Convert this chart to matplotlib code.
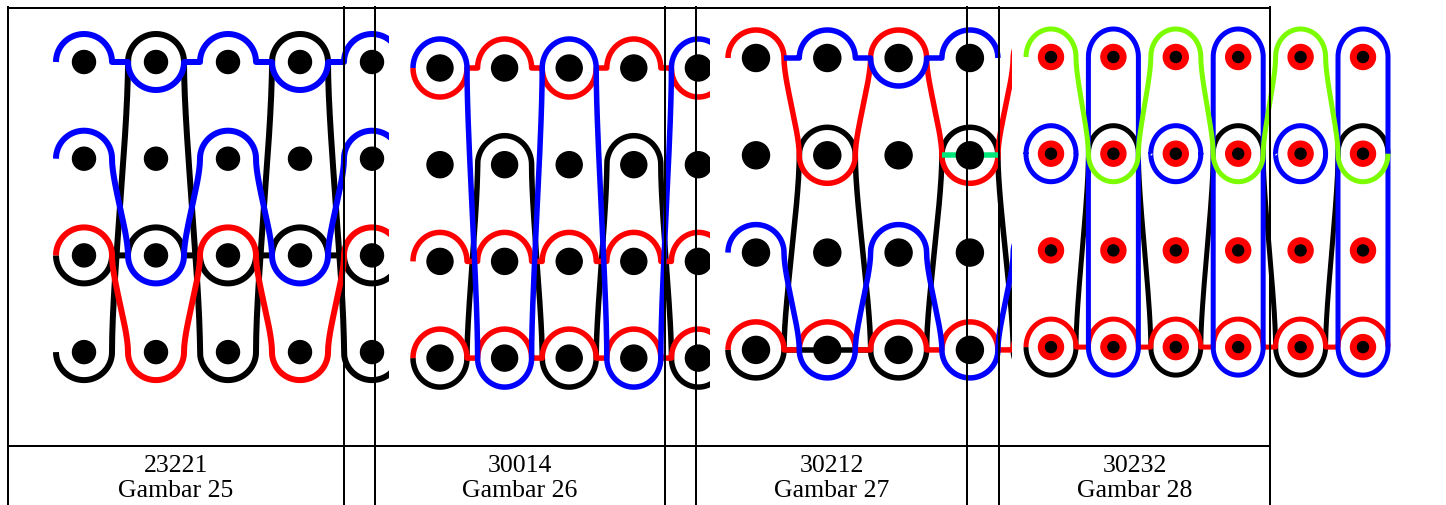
import numpy as np
import matplotlib
matplotlib.use('Agg')
import matplotlib.pyplot as plt
from matplotlib.patches import Circle

W, H = 1446, 505

# ---------------- data ----------------
codes = ['23221', '30014', '30212', '30232']
captions = ['Gambar 25', 'Gambar 26', 'Gambar 27', 'Gambar 28']

# dot grids (columns x rows)
grid_cols = [5, 5, 5, 6]
grid_rows = [4, 4, 4, 4]

# yarn paths: sequence of (kind, col, row); u/d = upper/lower half loop left->right,
# U/D = same right->left, L/R = left/right end point of a loop
p1_yarns = [
    ('black', [('d', 0, 3), ('u', 1, 0), ('d', 2, 3), ('u', 3, 0), ('d', 4, 3)], False),
    ('black', [('d', 0, 2), ('u', 1, 2), ('d', 2, 2), ('u', 3, 2), ('d', 4, 2)], False),
    ('red',   [('u', 0, 2), ('d', 1, 3), ('u', 2, 2), ('d', 3, 3), ('u', 4, 2)], False),
    ('blue',  [('u', 0, 1), ('d', 1, 2), ('u', 2, 1), ('d', 3, 2), ('u', 4, 1)], False),
    ('blue',  [('u', 0, 0), ('d', 1, 0), ('u', 2, 0), ('d', 3, 0), ('u', 4, 0)], False),
]
p2_yarns = [
    ('black', [('d', 0, 3), ('u', 1, 1), ('d', 2, 3), ('u', 3, 1), ('d', 4, 3)], False),
    ('red',   [('d', 0, 0), ('u', 1, 0), ('d', 2, 0), ('u', 3, 0), ('d', 4, 0)], False),
    ('red',   [('u', 0, 2), ('u', 1, 2), ('u', 2, 2), ('u', 3, 2), ('u', 4, 2)], False),
    ('red',   [('u', 0, 3), ('u', 1, 3), ('u', 2, 3), ('u', 3, 3), ('u', 4, 3)], False),
    ('blue',  [('u', 0, 0), ('d', 1, 3), ('u', 2, 0), ('d', 3, 3), ('u', 4, 0)], False),
]
p3_yarns = [
    ('black', [('d', 0, 3), ('u', 1, 1), ('d', 2, 3), ('u', 3, 1), ('d', 4, 3)], False),
    ('black', [('R', 0, 3), ('L', 2, 3)], False),
    ('red',   [('u', 0, 3), ('u', 1, 3), ('u', 2, 3), ('u', 3, 3), ('u', 4, 3)], False),
    ('red',   [('u', 0, 0), ('d', 1, 1), ('u', 2, 0), ('d', 3, 1), ('u', 4, 0)], False),
    ('blue',  [('R', 0, 0), ('u', 1, 0), ('d', 2, 0), ('u', 3, 0)], False),
    ('blue',  [('u', 0, 2), ('d', 1, 3), ('u', 2, 2), ('d', 3, 3), ('u', 4, 2)], False),
    ('#00e87a', [('L', 3, 1), ('R', 3, 1)], False),
]
p4_yarns = [
    ('black', [('d', 0, 3), ('u', 1, 1), ('d', 2, 3), ('u', 3, 1), ('d', 4, 3), ('u', 5, 1)], False),
    ('red',   [('u', 0, 3), ('u', 1, 3), ('u', 2, 3), ('u', 3, 3), ('u', 4, 3), ('u', 5, 3)], False),
    ('blue',  [('u', 1, 0), ('D', 1, 3)], True),
    ('blue',  [('u', 3, 0), ('D', 3, 3)], True),
    ('blue',  [('u', 5, 0), ('D', 5, 3)], True),
    ('blue',  [('u', 0, 1), ('D', 0, 1)], True),
    ('blue',  [('u', 2, 1), ('D', 2, 1)], True),
    ('blue',  [('u', 4, 1), ('D', 4, 1)], True),
    ('#7cfc00', [('u', 0, 0), ('d', 1, 1), ('u', 2, 0), ('d', 3, 1), ('u', 4, 0), ('d', 5, 1)], False),
]
yarns = [p1_yarns, p2_yarns, p3_yarns, p4_yarns]

# ---------------- layout / style ----------------
# per panel: clip box (px), first dot position, spacing, loop radii, line width, dot radius
panels = [
    dict(box=(47, 20, 389, 395), x0=84, y0=62, dx=72.0, dy=96.7, rx=28, ry=28, lw=6.0, dot=11.5),
    dict(box=(408, 20, 710, 400), x0=440, y0=68, dx=64.6, dy=96.7, rx=27, ry=29, lw=5.5, dot=13.0),
    dict(box=(719, 15, 1012, 395), x0=756, y0=58, dx=71.3, dy=97.3, rx=28, ry=28, lw=5.5, dot=13.5),
    dict(box=(1018, 15, 1395, 395), x0=1051, y0=57, dx=62.4, dy=96.7, rx=25, ry=28, lw=5.0, dot=12.5),
]
dot_style = ['plain', 'plain', 'plain', 'redblack']

table_x = [8, 344, 375, 665, 696, 967, 999, 1270]
table_top, table_mid = 8, 446
cell_pairs = [(8, 344), (375, 665), (696, 967), (999, 1270)]

PX = 72.0 / 100.0  # points per pixel

fig = plt.figure(figsize=(W / 100, H / 100), dpi=100)
fig.patch.set_facecolor('white')


def arc_pts(kind, cx, cy, rx, ry, n=48):
    t = np.linspace(np.pi, 0, n)
    x = cx + rx * np.cos(t)
    if kind in 'uU':
        y = cy - ry * np.sin(t)
    else:
        y = cy + ry * np.sin(t)
    if kind in 'UD':
        x, y = x[::-1], y[::-1]
    return x, y


def bez(p0, p3, k=0.25, n=30):
    p0 = np.array(p0, float)
    p3 = np.array(p3, float)
    d = p3[1] - p0[1]
    p1 = np.array([p0[0], p0[1] + k * d])
    p2 = np.array([p3[0], p3[1] - k * d])
    t = np.linspace(0, 1, n)[:, None]
    pts = (1 - t) ** 3 * p0 + 3 * (1 - t) ** 2 * t * p1 + 3 * (1 - t) * t ** 2 * p2 + t ** 3 * p3
    return pts[:, 0], pts[:, 1]


for i, P in enumerate(panels):
    bx0, by0, bx1, by1 = P['box']
    ax = fig.add_axes([bx0 / W, 1 - by1 / H, (bx1 - bx0) / W, (by1 - by0) / H])
    ax.set_xlim(bx0, bx1)
    ax.set_ylim(by1, by0)
    ax.axis('off')

    def pos(c, r):
        return P['x0'] + c * P['dx'], P['y0'] + r * P['dy']

    for color, seq, closed in yarns[i]:
        xs, ys = [], []
        for kind, c, r in seq:
            cx, cy = pos(c, r)
            if kind == 'L':
                sx, sy = np.array([cx - P['rx']]), np.array([cy])
            elif kind == 'R':
                sx, sy = np.array([cx + P['rx']]), np.array([cy])
            else:
                sx, sy = arc_pts(kind, cx, cy, P['rx'], P['ry'])
            if xs:
                bx, by = bez((xs[-1][-1], ys[-1][-1]), (sx[0], sy[0]))
                xs.append(bx); ys.append(by)
            xs.append(sx); ys.append(sy)
        if closed:
            bx, by = bez((xs[-1][-1], ys[-1][-1]), (xs[0][0], ys[0][0]))
            xs.append(bx); ys.append(by)
        ax.plot(np.concatenate(xs), np.concatenate(ys), color=color,
                lw=P['lw'] * PX, solid_capstyle='butt', solid_joinstyle='round')

    for c in range(grid_cols[i]):
        for r in range(grid_rows[i]):
            cx, cy = pos(c, r)
            if dot_style[i] == 'redblack':
                ax.add_patch(Circle((cx, cy), P['dot'], color='#ff0000', zorder=5))
                ax.add_patch(Circle((cx, cy), 5.5, color='black', zorder=6))
            else:
                ax.add_patch(Circle((cx, cy), P['dot'], color='black', zorder=5))

# table overlay
ov = fig.add_axes([0, 0, 1, 1], zorder=10)
ov.set_xlim(0, W)
ov.set_ylim(H, 0)
ov.axis('off')
ov.patch.set_alpha(0)
lw_t = 2 * PX
ov.plot([table_x[0], table_x[-1]], [table_top, table_top], color='black', lw=lw_t)
ov.plot([table_x[0], table_x[-1]], [table_mid, table_mid], color='black', lw=lw_t)
for x in table_x:
    ov.plot([x, x], [table_top - 1, H + 5], color='black', lw=lw_t)

for (a, b), code, cap in zip(cell_pairs, codes, captions):
    xc = (a + b) / 2
    ov.text(xc, 472, code, ha='center', va='baseline', fontsize=18.5,
            family='Liberation Serif')
    ov.text(xc, 497, cap, ha='center', va='baseline', fontsize=18.5,
            family='Liberation Serif')

fig.savefig('out.png', dpi=100, facecolor='white')
